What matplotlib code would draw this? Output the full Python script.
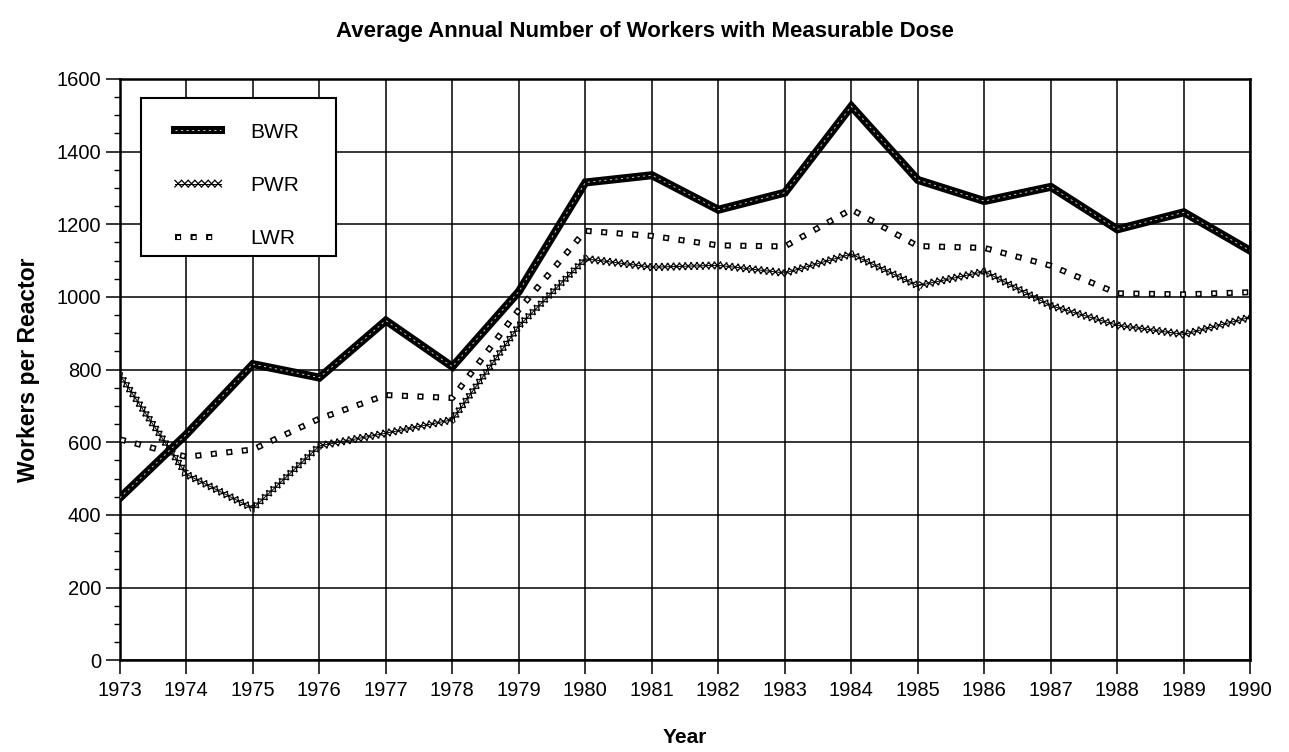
import matplotlib
matplotlib.use("Agg")
import matplotlib.pyplot as plt
import matplotlib.patheffects as pe
from matplotlib.legend_handler import HandlerTuple
from matplotlib.patches import Rectangle
from matplotlib.ticker import MultipleLocator

plt.rcParams['font.family'] = ['Liberation Sans', 'DejaVu Sans']
plt.rcParams['lines.scale_dashes'] = False

# values (workers per reactor)
years = [1973, 1974, 1975, 1976, 1977, 1978, 1979, 1980, 1981,
         1982, 1983, 1984, 1985, 1986, 1987, 1988, 1989, 1990]
bwr = [447, 622, 815, 778, 935, 808, 1015, 1315, 1335,
       1240, 1287, 1525, 1322, 1264, 1303, 1186, 1233, 1127]
pwr = [785, 512, 418, 590, 625, 662, 920, 1105, 1082,
       1087, 1066, 1118, 1031, 1070, 976, 922, 897, 944]
lwr = [608, 560, 580, 665, 730, 722, 965, 1182, 1168,
       1142, 1139, 1241, 1140, 1135, 1086, 1010, 1007, 1013]

fig = plt.figure(figsize=(12.89, 7.52), dpi=100)
ax = fig.add_axes([0.093, 0.122, 0.877, 0.773])

# BWR: heavy black line with a faint light core (scan look)
b1, = ax.plot(years, bwr, color='black', lw=5.8, solid_joinstyle='miter', zorder=5)
b2, = ax.plot(years, bwr, color='#d0d0d0', lw=0.7, ls=(0, (1.5, 2.5)), zorder=6)

# PWR: chain of small x's
ticks = [pe.TickedStroke(spacing=4.2, angle=a, length=0.8, linewidth=0.9)
         for a in (45, 135, -45, -135)]
p1, = ax.plot(years, pwr, color='black', lw=0.7, zorder=4,
              path_effects=ticks + [pe.Normal()])

# LWR: hollow squares along the line
sq = 4.4
gap = 6.8
l1, = ax.plot(years, lwr, color='black', lw=sq, ls=(0, (sq, gap)),
              dash_capstyle='butt', zorder=4)
l2, = ax.plot(years, lwr, color='white', lw=sq - 2.2,
              ls=(sq + gap - 1.1, (sq - 2.2, gap + 2.2)),
              dash_capstyle='butt', zorder=4)

ax.set_xlim(1973, 1990)
ax.set_ylim(0, 1600)
ax.set_xticks(years)
ax.yaxis.set_major_locator(MultipleLocator(200))
ax.yaxis.set_minor_locator(MultipleLocator(50))
ax.grid(True, which='major', color='black', lw=1.1)
ax.set_axisbelow(True)

for s in ax.spines.values():
    s.set_linewidth(1.8)

ax.tick_params(axis='both', which='major', direction='out', length=10, width=1.1,
               labelsize=14.5, colors='black')
ax.tick_params(axis='y', which='minor', direction='out', length=4, width=1.0)
ax.tick_params(axis='x', pad=5)

ax.set_xlabel('Year', fontsize=15, fontweight='bold', labelpad=20)
ax.set_ylabel('Workers per Reactor', fontsize=16.5, fontweight='bold', labelpad=12)
fig.suptitle('Average Annual Number of Workers with Measurable Dose',
             fontsize=16, fontweight='bold', x=0.5, y=0.972)

# legend box drawn by hand, entries placed inside it
ax.add_patch(Rectangle((0.019, 0.695), 0.172, 0.272, transform=ax.transAxes,
                       facecolor='white', edgecolor='black', lw=1.5, zorder=9))
leg = ax.legend([(b1, b2), p1, (l1, l2)], ['BWR', 'PWR', 'LWR'],
                handler_map={tuple: HandlerTuple(ndivide=1)},
                loc='upper left', bbox_to_anchor=(0.049, 0.925), borderaxespad=0,
                borderpad=0, fontsize=15, frameon=False, labelspacing=1.65,
                handlelength=2.2, handletextpad=1.4)
leg.set_zorder(10)

fig.savefig('out.png', dpi=100)
